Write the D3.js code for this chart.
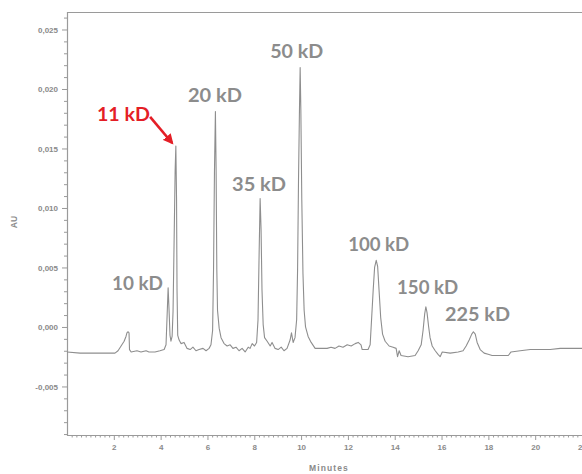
<!DOCTYPE html>
<html>
<head>
<meta charset="utf-8">
<script src="https://cdn.jsdelivr.net/npm/d3@7/dist/d3.min.js"></script>
<style>
  html, body { margin: 0; padding: 0; background: #fff; }
  svg { display: block; }
</style>
</head>
<body>
<svg id="chart" width="582" height="474"></svg>
<script>
// ---- data ----
const time = [0.00,0.56,1.41,2.05,2.18,2.31,2.44,2.52,2.56,2.61,2.65,2.67,2.74,2.99,3.16,3.38,3.50,3.76,3.97,4.15,
  4.23,4.27,4.32,4.36,4.40,4.44,4.49,4.53,4.57,4.62,4.65,4.68,4.70,4.73,4.79,4.87,5.00,5.13,5.26,5.38,
  5.51,5.64,5.81,5.94,6.07,6.15,6.22,6.26,6.30,6.34,6.37,6.40,6.43,6.50,6.58,6.71,6.84,6.97,7.09,7.22,
  7.35,7.48,7.61,7.74,7.82,7.91,8.01,8.10,8.16,8.21,8.25,8.29,8.33,8.38,8.44,8.55,8.68,8.76,8.89,9.02,
  9.15,9.27,9.40,9.53,9.59,9.66,9.74,9.81,9.85,9.89,9.93,9.96,9.99,10.03,10.08,10.13,10.19,10.30,10.43,10.60,
  10.77,10.94,11.11,11.28,11.45,11.62,11.79,11.97,12.14,12.31,12.44,12.56,12.61,12.86,12.95,13.01,13.08,13.14,13.21,13.27,
  13.33,13.40,13.48,13.59,13.76,13.93,14.06,14.12,14.19,14.27,14.57,14.87,15.00,15.13,15.21,15.28,15.33,15.38,15.45,15.51,
  15.60,15.73,15.85,15.94,16.03,16.37,16.71,16.92,17.05,17.18,17.29,17.36,17.44,17.52,17.65,17.82,17.99,18.16,18.50,18.85,
  18.97,19.36,19.79,20.21,20.64,21.07,21.50,22.00];
const au = [-0.0021,-0.0022,-0.0022,-0.0022,-0.0020,-0.0016,-0.0012,-0.0008,-0.0005,-0.0004,-0.0005,-0.0019,-0.0021,-0.0020,-0.0021,-0.0020,-0.0021,-0.0021,-0.0020,-0.0019,
  -0.0015,0.0006,0.0033,0.0014,-0.0007,-0.0012,-0.0008,0.0013,0.0065,0.0132,0.0152,0.0107,0.0031,-0.0007,-0.0011,-0.0014,-0.0013,-0.0018,-0.0019,-0.0017,
  -0.0020,-0.0019,-0.0018,-0.0020,-0.0018,-0.0015,-0.0003,0.0048,0.0132,0.0181,0.0132,0.0048,0.0014,-0.0001,-0.0009,-0.0014,-0.0016,-0.0015,-0.0018,-0.0017,
  -0.0020,-0.0018,-0.0021,-0.0017,-0.0018,-0.0014,-0.0016,-0.0013,0.0006,0.0065,0.0108,0.0082,0.0031,0.0002,-0.0009,-0.0012,-0.0016,-0.0013,-0.0018,-0.0019,
  -0.0017,-0.0020,-0.0018,-0.0011,-0.0005,-0.0013,-0.0009,0.0006,0.0048,0.0124,0.0182,0.0218,0.0182,0.0107,0.0045,0.0014,0.0000,-0.0008,-0.0013,-0.0018,
  -0.0018,-0.0018,-0.0018,-0.0017,-0.0018,-0.0016,-0.0017,-0.0015,-0.0016,-0.0014,-0.0013,-0.0015,-0.0019,-0.0019,-0.0015,0.0006,0.0031,0.0050,0.0056,0.0051,
  0.0031,0.0008,-0.0006,-0.0012,-0.0016,-0.0017,-0.0018,-0.0025,-0.0020,-0.0024,-0.0025,-0.0024,-0.0020,-0.0015,-0.0003,0.0011,0.0017,0.0012,0.0000,-0.0009,
  -0.0016,-0.0020,-0.0023,-0.0025,-0.0021,-0.0022,-0.0021,-0.0020,-0.0016,-0.0011,-0.0006,-0.0004,-0.0006,-0.0013,-0.0019,-0.0022,-0.0023,-0.0024,-0.0024,-0.0024,
  -0.0021,-0.0020,-0.0019,-0.0019,-0.0019,-0.0018,-0.0018,-0.0018];

const xTickValues = [2,4,6,8,10,12,14,16,18,20,22];
const yTickValues = [-0.005,0.000,0.005,0.010,0.015,0.020,0.025];
const xTitle = "Minutes";
const yTitle = "AU";

// peak annotations: text and anchor (time, AU) of the label's left/baseline
const peakLabels = ["10 kD","11 kD","20 kD","35 kD","50 kD","100 kD","150 kD","225 kD"];
const peakLabelTime = [1.92,1.28,5.17,7.05,8.68,12.01,14.10,16.15];
const peakLabelAU = [0.00311,0.01731,0.01891,0.01143,0.02261,0.00639,0.00277,0.00050];
const highlightLabel = "11 kD";
// arrow from label to 11 kD peak (time, AU)
const arrowFrom = [3.55, 0.01765];
const arrowTo = [4.49, 0.01546];

// ---- drawing ----
const svg = d3.select("#chart");
const mLeft = 67, mRight = 582, mTop = 12, mBottom = 435;
const x = d3.scaleLinear().domain([0, 22]).range([mLeft, mRight]);
const y = d3.scaleLinear().domain([-0.00908, 0.02647]).range([mBottom, mTop]);

const axisColor = "#9a9a9a";
const textColor = "#8a8a8a";
const tickFont = "'Liberation Sans', Arial, sans-serif";

const fmt = v => {
  let s = Math.abs(v) < 1e-12 ? "0.000" : d3.format(".3f")(Math.abs(v));
  s = s.replace(".", ",");
  return (v < -1e-12 ? "-" : "") + s;
};

// minor ticks
const yMinor = d3.range(-9, 27).map(i => i / 1000).filter(v => !yTickValues.some(t => Math.abs(t - v) < 1e-9));
const xMinor = d3.range(0, 111).map(i => i / 5).filter(v => !xTickValues.some(t => Math.abs(t - v) < 1e-9) && v > 0);

const gyMinor = svg.append("g").attr("transform", `translate(${mLeft},0)`)
  .call(d3.axisLeft(y).tickValues(yMinor).tickSize(3).tickFormat(""));
const gy = svg.append("g").attr("transform", `translate(${mLeft},0)`)
  .call(d3.axisLeft(y).tickValues(yTickValues).tickSize(5).tickPadding(4).tickFormat(fmt));
const gxMinor = svg.append("g").attr("transform", `translate(0,${mBottom})`)
  .call(d3.axisBottom(x).tickValues(xMinor).tickSize(2.5).tickFormat(""));
const gx = svg.append("g").attr("transform", `translate(0,${mBottom})`)
  .call(d3.axisBottom(x).tickValues(xTickValues).tickSize(5).tickPadding(4).tickFormat(d3.format("d")));

[gyMinor, gy, gxMinor, gx].forEach(g => {
  g.select(".domain").remove();
  g.selectAll(".tick line").attr("stroke", axisColor).attr("stroke-width", 1);
  g.selectAll(".tick text").attr("fill", textColor)
    .style("font-family", tickFont).style("font-size", "8px").style("font-weight", "bold");
});

// frame
svg.append("path")
  .attr("d", `M${mRight + 5},${mTop + 0.5}H${mLeft + 0.5}V${mBottom + 0.5}H${mRight + 5}`)
  .attr("fill", "none").attr("stroke", axisColor).attr("stroke-width", 1.2);

// axis titles
svg.append("text").attr("x", 329).attr("y", 471).attr("text-anchor", "middle")
  .attr("fill", textColor).style("font-family", tickFont).style("font-size", "8.5px")
  .style("font-weight", "bold").style("letter-spacing", "1.1px").text(xTitle);
svg.append("text").attr("transform", "translate(17,222) rotate(-90)").attr("text-anchor", "middle")
  .attr("fill", textColor).style("font-family", tickFont).style("font-size", "8.5px")
  .style("font-weight", "bold").text(yTitle);

// trace
const pts = time.map((t, i) => [t, au[i]]);
svg.append("path").datum(pts)
  .attr("d", d3.line().x(d => x(d[0])).y(d => y(d[1])))
  .attr("fill", "none").attr("stroke", "#8e8e8e").attr("stroke-width", 1.1)
  .attr("stroke-linejoin", "round");

// peak labels
const labelWidths = {"10 kD": 51, "11 kD": 53, "20 kD": 54, "35 kD": 54, "50 kD": 53, "100 kD": 61, "150 kD": 61, "225 kD": 65};
svg.append("g").selectAll("text").data(peakLabels).join("text")
  .attr("x", (d, i) => x(peakLabelTime[i]))
  .attr("y", (d, i) => y(peakLabelAU[i]))
  .attr("fill", d => d === highlightLabel ? "#e41e26" : "#8c8c8c")
  .attr("textLength", d => labelWidths[d])
  .attr("lengthAdjust", "spacingAndGlyphs")
  .style("font-family", "Lato, 'Open Sans', sans-serif")
  .style("font-weight", "bold")
  .style("font-size", "19px")
  .text(d => d);

// arrow
const defs = svg.append("defs");
defs.append("marker").attr("id", "ah").attr("viewBox", "0 0 10 10")
  .attr("refX", 8).attr("refY", 5).attr("markerWidth", 4).attr("markerHeight", 4)
  .attr("orient", "auto")
  .append("path").attr("d", "M0,0L10,5L0,10Z").attr("fill", "#e41e26");
svg.append("line")
  .attr("x1", x(arrowFrom[0])).attr("y1", y(arrowFrom[1]))
  .attr("x2", x(arrowTo[0])).attr("y2", y(arrowTo[1]))
  .attr("stroke", "#e41e26").attr("stroke-width", 2.6)
  .attr("marker-end", "url(#ah)");
</script>
</body>
</html>
